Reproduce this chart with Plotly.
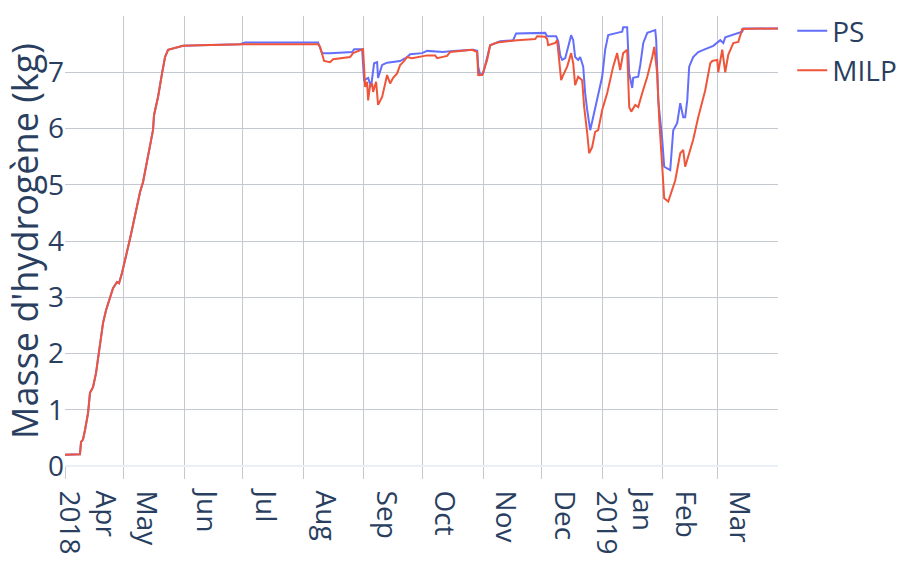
import pandas as pd
import plotly.graph_objects as go

# Hourly simulation index (hours since 2018-04-01 00:00) and hydrogen mass in kg
start = pd.Timestamp("2018-04-01 00:00")

ramp_hours = [0, 184, 197, 221, 246, 283, 307, 344, 381, 406, 442, 467, 504, 553,
              590, 639, 664, 700, 750, 786, 823, 860, 922, 959, 1020, 1081, 1094,
              1143, 1192, 1229, 1266, 1376, 1450, 1659]
ramp_kg = [0.2, 0.21, 0.43, 0.47, 0.64, 0.94, 1.3, 1.4, 1.65, 1.94, 2.3, 2.54, 2.77,
           3.0, 3.16, 3.27, 3.25, 3.43, 3.72, 3.96, 4.2, 4.46, 4.87, 5.05, 5.53, 5.97,
           6.24, 6.56, 6.98, 7.27, 7.4, 7.44, 7.47, 7.48]

ps_hours = [2151, 2212, 3109, 3158, 3257, 3527, 3552, 3650, 3674, 3724, 3760, 3797,
            3834, 3846, 3896, 3957, 4117, 4203, 4240, 4387, 4449, 4645, 4768, 5014,
            5063, 5076, 5100, 5137, 5186, 5223, 5346, 5505, 5542, 5899, 5923, 6034,
            6059, 6083, 6108, 6145, 6181, 6218, 6243, 6267, 6304, 6329, 6366, 6390,
            6415, 6452, 6488, 6538, 6599, 6636, 6673, 6783, 6845, 6857, 6906, 6931,
            6968, 6980, 7042, 7067, 7104, 7153, 7214, 7251, 7263, 7288, 7337, 7361,
            7435, 7472, 7521, 7558, 7595, 7619, 7644, 7668, 7717, 7779, 7865, 7964,
            8050, 8087, 8111, 8259, 8320, 8333, 8759]
ps_kg = [7.5, 7.53, 7.53, 7.34, 7.34, 7.36, 7.41, 7.41, 6.86, 6.9, 6.74, 7.16,
         7.18, 6.9, 7.13, 7.17, 7.2, 7.27, 7.32, 7.34, 7.38, 7.36, 7.38, 7.4,
         7.38, 7.1, 6.95, 6.98, 7.27, 7.48, 7.55, 7.57, 7.69, 7.7, 7.64, 7.64,
         7.55, 7.3, 7.22, 7.25, 7.45, 7.66, 7.57, 7.27, 7.22, 7.27, 7.1, 6.63,
         6.33, 5.97, 6.2, 6.5, 6.92, 7.4, 7.66, 7.7, 7.72, 7.8, 7.8, 6.98,
         6.72, 6.9, 6.92, 7.13, 7.52, 7.7, 7.74, 7.75, 7.57, 6.5, 5.8, 5.32,
         5.26, 5.97, 6.1, 6.45, 6.2, 6.2, 6.5, 7.1, 7.27, 7.36, 7.41, 7.47,
         7.57, 7.52, 7.62, 7.7, 7.72, 7.78, 7.78]

milp_hours = [2151, 2212, 3109, 3134, 3183, 3257, 3293, 3502, 3539, 3650, 3662,
              3687, 3711, 3724, 3748, 3773, 3785, 3822, 3846, 3896, 3932, 3957, 3994,
              4031, 4080, 4117, 4154, 4203, 4264, 4363, 4449, 4547, 4572, 4694, 4731,
              5002, 5063, 5076, 5125, 5186, 5223, 5309, 5555, 5776, 5801, 5899, 5923,
              5936, 6022, 6046, 6095, 6120, 6169, 6218, 6243, 6267, 6304, 6353, 6378,
              6415, 6439, 6476, 6513, 6550, 6599, 6661, 6734, 6783, 6820, 6857, 6906,
              6931, 6956, 7005, 7042, 7091, 7153, 7214, 7239, 7275, 7300, 7337, 7361,
              7411, 7460, 7497, 7558, 7595, 7619, 7656, 7717, 7779, 7865, 7927, 7951,
              8013, 8025, 8074, 8111, 8148, 8210, 8271, 8320, 8759]
milp_kg = [7.49, 7.5, 7.5, 7.45, 7.2, 7.18, 7.23, 7.27, 7.34, 7.41, 7.41,
           6.74, 6.83, 6.5, 6.77, 6.8, 6.65, 6.83, 6.42, 6.56, 6.77, 6.95, 6.8,
           6.9, 6.98, 7.13, 7.18, 7.27, 7.25, 7.27, 7.3, 7.3, 7.25, 7.29, 7.36,
           7.4, 7.36, 6.95, 6.95, 7.22, 7.48, 7.53, 7.57, 7.59, 7.64, 7.63, 7.59,
           7.48, 7.52, 7.57, 6.86, 6.95, 7.1, 7.34, 7.16, 6.77, 6.92, 6.86, 6.38,
           5.92, 5.56, 5.67, 5.94, 5.97, 6.33, 6.63, 7.1, 7.34, 7.04, 7.34, 7.4,
           6.38, 6.3, 6.42, 6.38, 6.63, 6.92, 7.27, 7.45, 6.98, 6.15, 5.32, 4.76,
           4.7, 4.9, 5.08, 5.56, 5.62, 5.32, 5.5, 5.8, 6.2, 6.68, 7.16, 7.2,
           7.22, 7.0, 7.4, 7.0, 7.31, 7.52, 7.54, 7.77, 7.78]

# Month ticks for the x axis
month_ticks = ["2018-04-01", "2018-05-01", "2018-06-01", "2018-07-01", "2018-08-01",
               "2018-09-01", "2018-10-01", "2018-11-01", "2018-12-01", "2019-01-01",
               "2019-02-01", "2019-03-01"]
month_labels = ["Apr<br>2018", "May", "Jun", "Jul", "Aug", "Sep", "Oct", "Nov",
                "Dec", "Jan<br>2019", "Feb", "Mar"]


def to_dates(hours):
    return start + pd.to_timedelta(hours, unit="h")


ps_x = to_dates(ramp_hours + ps_hours)
ps_y = ramp_kg + ps_kg
milp_x = to_dates(ramp_hours + milp_hours)
milp_y = ramp_kg + milp_kg

GRID = "#c4c8cf"

fig = go.Figure()
fig.add_trace(go.Scatter(x=ps_x, y=ps_y, mode="lines", name="PS",
                         line=dict(color="#636efa", width=2)))
fig.add_trace(go.Scatter(x=milp_x, y=milp_y, mode="lines", name="MILP",
                         line=dict(color="#EF553B", width=2)))

fig.update_layout(
    template="plotly_white",
    width=907, height=570,
    margin=dict(l=65, r=129, t=16, b=104, autoexpand=False),
    font=dict(size=28),
    legend=dict(font=dict(size=28), y=1.022),
    xaxis=dict(
        tickmode="array", tickvals=month_ticks, ticktext=month_labels,
        tickangle=90, ticklabelshift=22, ticklabelstandoff=6, automargin=False,
        gridcolor=GRID, ticks="outside", ticklen=12, tickcolor=GRID,
    ),
    yaxis=dict(
        range=[0, 8], dtick=1, gridcolor=GRID, automargin=False,
        title=dict(text="Masse d'hydrogène (kg)", font=dict(size=36)),
    ),
)

fig.write_html("out.html")
